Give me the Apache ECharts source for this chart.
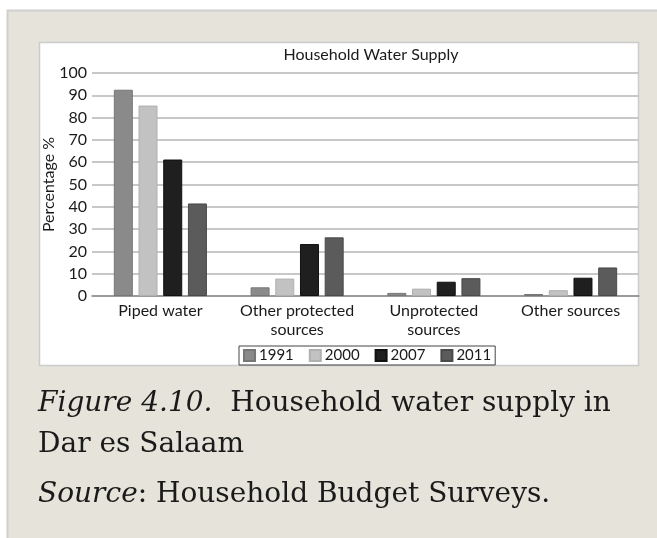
<!DOCTYPE html>
<html>
<head>
<meta charset="utf-8">
<script src="https://cdn.jsdelivr.net/npm/echarts@6/dist/echarts.min.js"></script>
<style>
  html, body { margin: 0; padding: 0; background: #ffffff; }
  #chart { width: 657px; height: 538px; }
</style>
</head>
<body>
<div id="chart"></div>
<script>
// Household water supply sources in Dar es Salaam, by survey year (%)
const categories = ['Piped water', 'Other protected\nsources', 'Unprotected\nsources', 'Other sources'];
const years = ['1991', '2000', '2007', '2011'];
const values1991 = [92.5, 3.9, 1.4, 0.9];
const values2000 = [85.4, 7.8, 3.3, 2.6];
const values2007 = [61.2, 23.3, 6.4, 8.2];
const values2011 = [41.5, 26.3, 8.0, 12.8];
const yearColors = ['#8a8a8a', '#c2c2c2', '#1f1f1f', '#5b5b5b'];
const yearBorders = ['#777777', '#b0b0b0', '#111111', '#4a4a4a'];

const sansFont = 'Lato, "Open Sans", sans-serif';
const serifFont = '"DejaVu Serif", serif';

const seriesValues = [values1991, values2000, values2007, values2011];

const chart = echarts.init(document.getElementById('chart'), null, { renderer: 'canvas' });

const captionStyle = {
  font: '28px ' + serifFont,
  fill: '#1a1a1a',
  lineHeight: 41,
  rich: {
    i: { fontStyle: 'italic', fontFamily: serifFont, fontSize: 28, fill: '#1a1a1a', lineHeight: 41 }
  }
};

chart.setOption({
  animation: false,
  backgroundColor: '#ffffff',
  graphic: [
    {
      type: 'rect', z: -10, silent: true,
      shape: { x: 7.5, y: 10.5, width: 660, height: 540 },
      style: { fill: '#e5e3da', stroke: '#cfcfcf', lineWidth: 2 }
    },
    {
      type: 'rect', z: -9, silent: true,
      shape: { x: 39.5, y: 42.5, width: 599, height: 323 },
      style: { fill: '#ffffff', stroke: '#cccccc', lineWidth: 1.5 }
    },
    {
      type: 'text', left: 38, top: 383, silent: true,
      style: Object.assign({ text: '{i|Figure 4.10.}  Household water supply in\nDar es Salaam' }, captionStyle)
    },
    {
      type: 'text', left: 38, top: 474, silent: true,
      style: Object.assign({ text: '{i|Source}: Household Budget Surveys.' }, captionStyle)
    }
  ],
  title: {
    text: 'Household Water Supply',
    left: 366, top: 42, textAlign: 'center',
    textStyle: { fontFamily: sansFont, fontSize: 16, fontWeight: 'normal', color: '#1a1a1a' }
  },
  legend: {
    data: years,
    left: 239, top: 346,
    padding: [2, 4, 2, 4],
    borderColor: '#444444', borderWidth: 1,
    itemWidth: 11, itemHeight: 11, itemGap: 15,
    icon: 'rect',
    textStyle: { fontFamily: sansFont, fontSize: 15, color: '#1a1a1a', padding: [0, 0, 0, -1] }
  },
  grid: { left: 92, right: 18, top: 73, bottom: 242, containLabel: false },
  xAxis: {
    type: 'category',
    data: categories,
    axisLine: { lineStyle: { color: '#8a8a8a', width: 1.5 } },
    axisTick: { show: false },
    axisLabel: {
      fontFamily: sansFont, fontSize: 16, color: '#1a1a1a',
      margin: 5, lineHeight: 19, interval: 0
    }
  },
  yAxis: {
    type: 'value',
    min: 0, max: 100, interval: 10,
    name: 'Percentage %',
    nameLocation: 'middle', nameGap: 35, nameRotate: 90,
    nameMoveOverlap: false,
    nameTextStyle: { fontFamily: sansFont, fontSize: 16, color: '#1a1a1a' },
    axisLine: { show: false },
    axisTick: { show: false },
    axisLabel: { fontFamily: sansFont, fontSize: 16, color: '#1a1a1a', margin: 5 },
    splitLine: { lineStyle: { color: '#c8c8c8', width: 2 } }
  },
  series: years.map((year, i) => ({
    name: year,
    type: 'bar',
    data: seriesValues[i],
    barWidth: 19,
    barGap: '30%',
    itemStyle: { color: yearColors[i], borderColor: yearBorders[i], borderWidth: 1 }
  }))
});
</script>
</body>
</html>
